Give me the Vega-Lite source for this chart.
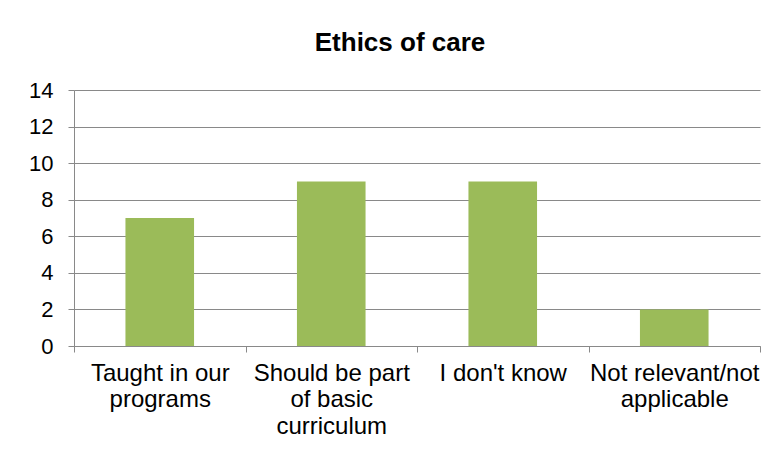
{
  "$schema": "https://vega.github.io/schema/vega-lite/v6.json",
  "autosize": {"type": "none"},
  "width": 686,
  "height": 256,
  "padding": {"left": 74, "top": 90, "right": 16, "bottom": 111},
  "background": "white",
  "title": {
    "text": "Ethics of care",
    "font": "Liberation Sans",
    "fontSize": 26,
    "fontWeight": "bold",
    "color": "#000000",
    "anchor": "middle",
    "dx": -17,
    "baseline": "alphabetic",
    "offset": 2
  },
  "data": {
    "values": [
      {"category": "Taught in our programs", "count": 7},
      {"category": "Should be part of basic curriculum", "count": 9},
      {"category": "I don't know", "count": 9},
      {"category": "Not relevant/not applicable", "count": 2}
    ]
  },
  "mark": {"type": "bar", "color": "#9BBB59", "width": {"band": 0.4}},
  "encoding": {
    "x": {
      "field": "category",
      "type": "nominal",
      "sort": null,
      "scale": {"paddingInner": 0, "paddingOuter": 0},
      "axis": {
        "title": null,
        "labelAngle": 0,
        "labelFont": "Liberation Sans",
        "labelFontSize": 24,
        "labelColor": "#000000",
        "labelLineHeight": 26.5,
        "labelPadding": 9,
        "labelLimit": 0,
        "tickBand": "extent",
        "tickSize": 6,
        "tickColor": "#898989",
        "domainColor": "#898989",
        "labelExpr": "datum.value == 'Taught in our programs' ? ['Taught in our', 'programs'] : datum.value == 'Should be part of basic curriculum' ? ['Should be part', 'of basic', 'curriculum'] : datum.value == 'Not relevant/not applicable' ? ['Not relevant/not', 'applicable'] : datum.value"
      }
    },
    "y": {
      "field": "count",
      "type": "quantitative",
      "scale": {"domain": [0, 14]},
      "axis": {
        "title": null,
        "values": [0, 2, 4, 6, 8, 10, 12, 14],
        "labelFont": "Liberation Sans",
        "labelFontSize": 22,
        "labelColor": "#000000",
        "labelPadding": 15,
        "tickSize": 6,
        "tickColor": "#898989",
        "domainColor": "#898989",
        "gridColor": "#898989",
        "grid": true
      }
    }
  },
  "config": {
    "view": {"stroke": null},
    "axis": {"domainWidth": 1, "tickWidth": 1, "gridWidth": 1}
  }
}
